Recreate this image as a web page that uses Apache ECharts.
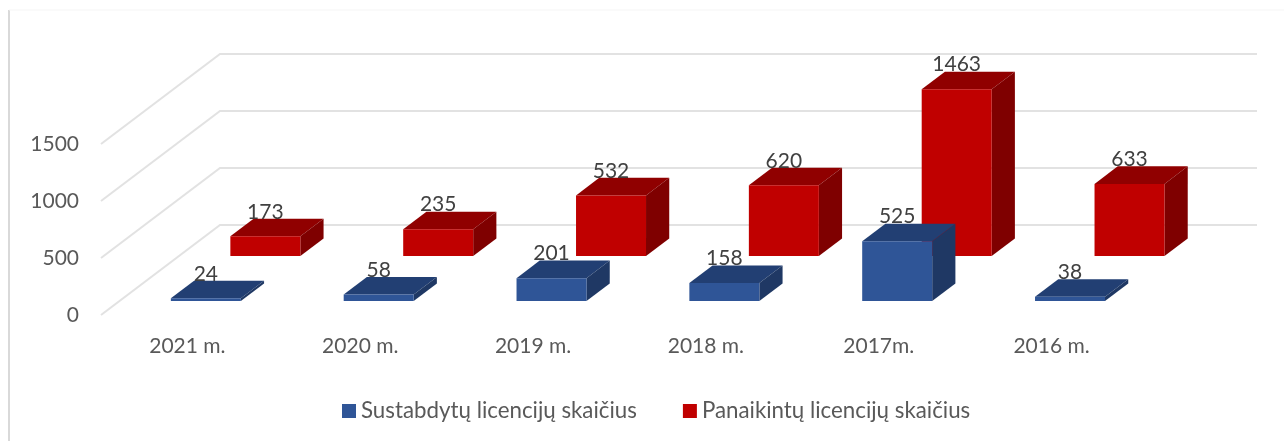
<!DOCTYPE html>
<html>
<head>
<meta charset="utf-8">
<style>
  html, body { margin: 0; padding: 0; background: #fff; }
  #chart { width: 1284px; height: 441px; }
</style>
<script src="https://cdn.jsdelivr.net/npm/echarts@6/dist/echarts.min.js"></script>
</head>
<body>
<div id="chart"></div>
<script>
const categories = ['2021 m.', '2020 m.', '2019 m.', '2018 m.', '2017m.', '2016 m.']
const suspended = [24, 58, 201, 158, 525, 38]
const revoked = [173, 235, 532, 620, 1463, 633]
const yTicks = [0, 500, 1000, 1500]

const FONT = 'Lato, sans-serif'
// oblique floor: how far the back wall sits from the front plane, px
const DEPTH_X = 119
const DEPTH_Y = 90
const BAR_RATIO = 0.405

function box(api, depthFrom, depthTo, colors) {
  const idx = api.value(0)
  const base = api.coord([idx, 0])
  const top = api.coord([idx, api.value(1)])
  const half = api.size([1, 0])[0] * BAR_RATIO / 2
  const pt = (side, y, d) => [base[0] + side * half + DEPTH_X * d, y - DEPTH_Y * d]
  const poly = (points, fill) => ({ type: 'polygon', shape: { points }, style: { fill } })
  return {
    type: 'group',
    children: [
      poly([pt(-1, top[1], depthFrom), pt(1, top[1], depthFrom), pt(1, top[1], depthTo), pt(-1, top[1], depthTo)], colors.top),
      poly([pt(1, base[1], depthFrom), pt(1, base[1], depthTo), pt(1, top[1], depthTo), pt(1, top[1], depthFrom)], colors.side),
      poly([pt(-1, base[1], depthFrom), pt(1, base[1], depthFrom), pt(1, top[1], depthFrom), pt(-1, top[1], depthFrom)], colors.front),
      {
        type: 'text',
        style: {
          text: String(api.value(1)),
          x: pt(0, top[1], depthFrom)[0],
          y: pt(0, top[1], depthTo)[1] - 7,
          align: 'center',
          verticalAlign: 'middle',
          font: '21px ' + FONT,
          fill: '#404040'
        }
      }
    ]
  }
}

function renderWall(params, api) {
  const base = api.coord([0, api.value(1)])
  const band = api.size([1, 0])[0]
  const left = base[0] - band / 2
  const backX = left + DEPTH_X
  const backY = base[1] - DEPTH_Y
  return {
    type: 'polyline',
    shape: { points: [[left, base[1]], [backX, backY], [backX + band * categories.length, backY]] },
    style: { stroke: '#e2e2e2', lineWidth: 2, fill: null }
  }
}

const chart = echarts.init(document.getElementById('chart'))
chart.setOption({
  animation: false,
  backgroundColor: '#fff',
  textStyle: { fontFamily: FONT },
  grid: { left: 101, right: 146, top: 144, bottom: 126 },
  legend: {
    data: ['Sustabdytų licencijų skaičius', 'Panaikintų licencijų skaičius'],
    left: 337,
    top: 395,
    icon: 'rect',
    itemWidth: 14,
    itemHeight: 14,
    itemGap: 46,
    textStyle: { fontFamily: FONT, fontSize: 22.3, color: '#595959' }
  },
  xAxis: {
    type: 'category',
    data: categories,
    axisLine: { show: false },
    axisTick: { show: false },
    axisLabel: { fontSize: 21, color: '#595959', margin: 21 }
  },
  yAxis: {
    type: 'value',
    min: 0,
    max: 1500,
    interval: 500,
    axisLine: { show: false },
    axisTick: { show: false },
    splitLine: { show: false },
    axisLabel: { fontSize: 21, color: '#595959', margin: 22, padding: [6, 0, 0, 0], formatter: v => String(v) }
  },
  graphic: [
    { type: 'line', shape: { x1: 9, y1: 10, x2: 9, y2: 441 }, style: { stroke: '#d9d9d9', lineWidth: 2 } },
    { type: 'line', shape: { x1: 9, y1: 10, x2: 1284, y2: 10 }, style: { stroke: '#f5f5f5', lineWidth: 1 } }
  ],
  series: [
    {
      name: 'walls',
      type: 'custom',
      z: 1,
      clip: false,
      data: yTicks.map(t => [0, t]),
      encode: { x: 0, y: 1 },
      renderItem: renderWall
    },
    {
      name: 'Panaikintų licencijų skaičius',
      type: 'custom',
      z: 2,
      clip: false,
      itemStyle: { color: '#c00000' },
      data: revoked.map((v, i) => [i, v]),
      encode: { x: 0, y: 1 },
      renderItem: (params, api) => box(api, 0.655, 0.85, { front: '#c00000', top: '#900000', side: '#7f0000' })
    },
    {
      name: 'Sustabdytų licencijų skaičius',
      type: 'custom',
      z: 3,
      clip: false,
      itemStyle: { color: '#2f5597' },
      data: suspended.map((v, i) => [i, v]),
      encode: { x: 0, y: 1 },
      renderItem: (params, api) => box(api, 0.155, 0.35, { front: '#2f5597', top: '#223f73', side: '#1f3864' })
    }
  ]
})
</script>
</body>
</html>
